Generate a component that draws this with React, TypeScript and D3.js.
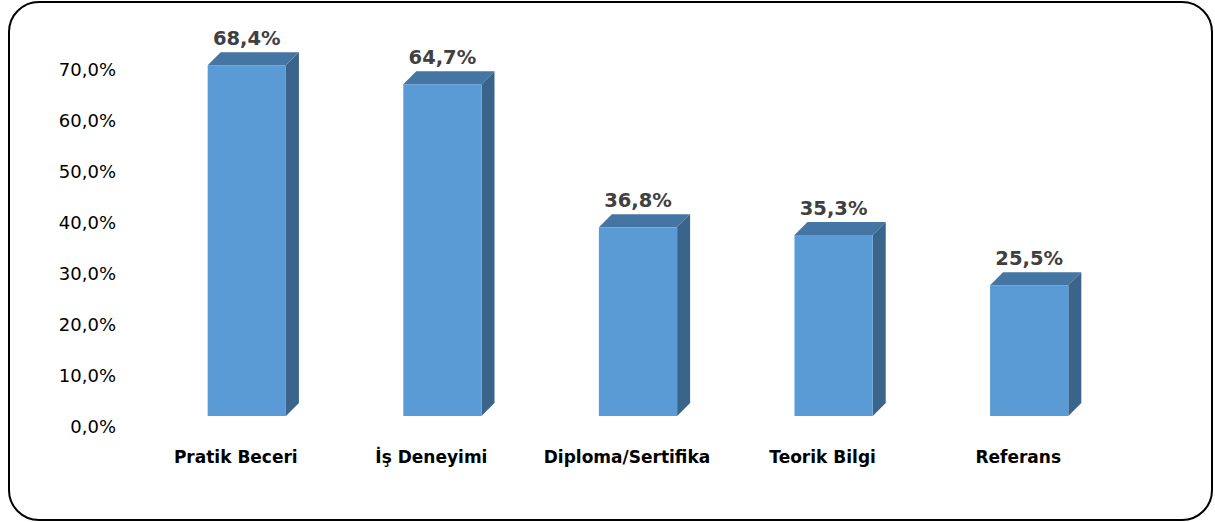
import React from 'react';
import * as d3 from 'd3';

const categories = ['Pratik Beceri', 'İş Deneyimi', 'Diploma/Sertifika', 'Teorik Bilgi', 'Referans'];
const values = [68.4, 64.7, 36.8, 35.3, 25.5];
const tickValues = [0, 10, 20, 30, 40, 50, 60, 70];

const W = 1215;
const H = 522;
const DX = 13;
const DY = -13;

const fmt = (v: number, d = 1) => v.toFixed(d).replace('.', ',') + '%';

export default function App() {
  const x = d3.scaleBand<string>().domain(categories).range([149, 1127]).paddingInner(0.6).paddingOuter(0.3);
  const y = d3.scaleLinear().domain([0, 70]).range([416, 57]);
  const yTick = d3.scaleLinear().domain([0, 70]).range([427, 70]);
  const font = '"DejaVu Sans", sans-serif';

  return (
    <svg width={W} height={H} style={{ position: 'absolute', left: 0, top: 0 }}>
      <rect x={9} y={2} width={1203} height={518} rx={30} ry={30} fill="#fff" stroke="#000" strokeWidth={2} />
      {tickValues.map(t => (
        <text key={t} x={116} y={yTick(t)} dy="0.35em" textAnchor="end" fontFamily={font} fontSize={18} fill="#000">
          {fmt(t)}
        </text>
      ))}
      {categories.map((c, i) => {
        const x0 = x(c)!;
        const bw = x.bandwidth();
        const yt = y(values[i]);
        const yb = y(0);
        return (
          <g key={c}>
            <path d={`M${x0 + bw},${yt} L${x0 + bw + DX},${yt + DY} L${x0 + bw + DX},${yb + DY} L${x0 + bw},${yb} Z`} fill="#3a6489" />
            <path d={`M${x0},${yt} L${x0 + DX},${yt + DY} L${x0 + bw + DX},${yt + DY} L${x0 + bw},${yt} Z`} fill="#4575a3" />
            <rect x={x0} y={yt} width={bw} height={yb - yt} fill="#5b9bd5" />
            <text x={x0 + bw / 2} y={yt + DY - 14} dy="0.35em" textAnchor="middle" fontFamily={font} fontWeight="bold" fontSize={19.5} fill="#404040">
              {fmt(values[i])}
            </text>
            <text x={x0 + bw / 2 - 11} y={457} dy="0.35em" textAnchor="middle" fontFamily={font} fontWeight="bold" fontSize={17} fill="#000">
              {c}
            </text>
          </g>
        );
      })}
    </svg>
  );
}
